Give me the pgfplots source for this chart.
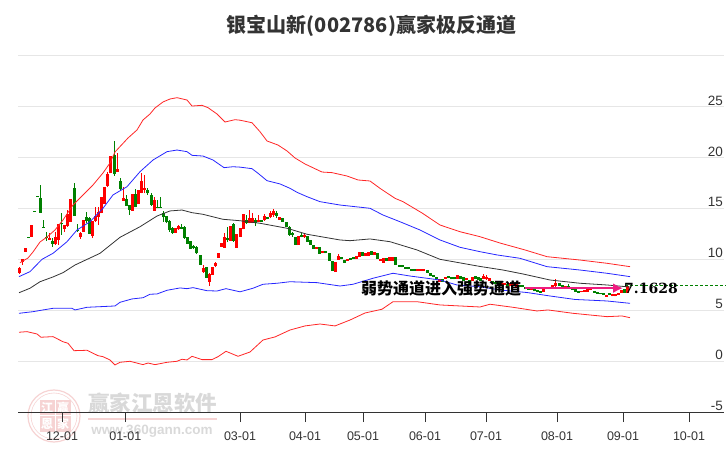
\documentclass[border=0pt]{standalone}
\usepackage{pgfplots}
\usepackage{pgfplotstable}
\usepackage{fontspec}
\usetikzlibrary{arrows.meta}
\pgfplotsset{compat=1.18}
\setmainfont{Liberation Sans}
\newfontfamily\cjk{Noto Sans CJK SC}
\newfontfamily\numf{DejaVu Serif}
\definecolor{gridc}{HTML}{E6E6E6}
\definecolor{axc}{HTML}{333333}
\definecolor{pinkw}{HTML}{F6D3D3}
\definecolor{grayw}{HTML}{D9D9D9}
\definecolor{arrowc}{HTML}{EE1C80}
\definecolor{cred}{HTML}{FF0000}
\definecolor{cgreen}{HTML}{008000}
\pgfplotstableread{
x blo bhi wlo whi
19.3 8.69 9.11 8.56 9.21
22.3 9.70 10.00 9.44 10.00
25.3 10.75 11.07 10.75 11.07
31.3 12.22 13.33 12.22 13.33
49.3 11.89 12.09 11.89 12.55
55.3 11.47 12.22 11.40 12.71
58.3 11.89 13.43 11.40 13.43
64.3 12.97 13.37 12.65 13.37
67.3 13.27 14.44 13.20 14.84
70.3 13.69 15.92 13.69 15.92
80.3 12.15 12.55 11.99 12.71
83.3 12.71 13.86 12.71 13.86
92.3 12.28 13.79 12.06 13.79
95.3 13.79 14.25 13.69 15.10
98.3 14.18 14.67 13.37 15.10
101.3 14.51 16.08 14.51 16.08
104.3 15.43 17.06 15.43 17.06
107.3 17.19 18.37 17.13 18.60
110.3 18.44 20.14 18.44 20.14
117.3 18.60 18.83 18.60 20.46
123.3 15.75 15.98 15.75 17.13
132.3 14.77 16.37 14.77 16.37
138.3 15.43 16.80 15.43 16.80
141.3 16.54 17.68 16.47 18.44
144.3 16.80 16.96 16.47 18.27
154.3 14.77 15.82 14.74 16.15
175.3 12.61 13.07 12.61 13.07
178.3 12.94 13.27 12.87 13.37
203.5 8.78 9.11 8.69 9.44
209.5 7.80 8.56 7.41 8.62
212.5 8.46 9.21 8.46 9.21
215.5 9.34 9.67 9.21 9.77
218.5 10.16 10.58 10.16 10.58
221.5 11.24 11.57 11.24 11.57
224.5 11.14 12.15 11.14 12.55
230.3 11.82 13.26 11.82 13.26
236.3 11.14 12.48 11.14 12.48
240.3 12.22 13.03 12.22 13.03
243.3 12.94 14.44 12.94 14.44
249.3 13.59 14.02 13.52 14.83
252.3 13.59 14.02 13.52 14.51
258 13.63 13.86 13.63 14.35
264 13.86 14.25 13.76 14.44
270 14.12 14.58 14.02 14.77
273 14.35 14.77 14.18 14.93
279 13.86 14.12 13.86 14.12
298.3 11.40 12.32 11.40 12.32
304 12.22 12.38 12.12 12.55
316.3 10.98 11.24 10.98 11.24
322.3 10.58 10.81 10.58 10.81
335.3 8.78 9.77 8.78 9.77
338.3 9.93 10.35 9.93 10.52
347.3 9.86 10.03 9.86 10.03
356.3 10.03 10.32 10.03 10.32
359.3 10.26 10.68 10.26 10.68
365.3 10.35 10.65 10.35 10.65
368.3 10.35 10.68 10.35 10.68
374.3 10.42 10.68 10.42 10.68
380.3 9.86 10.03 9.86 10.03
383.3 9.67 10.09 9.67 10.09
389.3 9.86 10.19 9.86 10.19
392.3 9.86 10.26 9.86 10.26
417.7 8.85 9.05 8.85 9.05
420.7 8.85 9.05 8.85 9.05
423.7 8.85 9.05 8.85 9.05
439 7.80 8.03 7.80 8.03
445 8.08 8.28 8.08 8.28
457.3 8.10 8.42 8.10 8.42
466.3 7.97 8.17 7.97 8.17
472.3 7.90 8.23 7.90 8.23
483 8.05 8.35 8.02 8.51
486 8.03 8.22 8.00 8.45
489 7.86 8.12 7.86 8.12
501 7.40 7.63 7.40 7.63
504 7.47 7.67 7.47 7.67
510 7.40 7.63 7.40 7.63
513 7.45 7.65 7.45 7.65
516 7.30 7.53 7.30 7.53
531 7.00 7.18 7.00 7.18
543 6.82 7.05 6.82 7.05
546 7.05 7.25 7.05 7.25
549 7.07 7.27 7.07 7.27
552 7.25 7.47 7.25 7.47
555.5 7.38 7.70 7.31 8.06
565 7.22 7.40 7.22 7.40
581 6.75 6.92 6.75 6.92
584 6.80 6.98 6.80 6.98
587 6.82 7.05 6.82 7.05
590 6.97 7.15 6.97 7.15
606 6.33 6.53 6.33 6.53
612 6.38 6.56 6.38 6.56
615 6.36 6.56 6.36 6.56
618 6.49 6.72 6.49 6.72
621 6.66 6.98 6.66 6.98
627.5 6.66 7.38 6.66 7.38
}\redt
\pgfplotstableread{
x blo bhi wlo whi
28.3 12.15 12.22 12.15 12.22
34.3 14.71 14.78 14.71 14.78
37.3 16.18 16.25 16.18 16.25
40.3 14.58 15.98 14.58 17.29
43.3 13.14 13.21 13.10 13.86
46.3 12.06 12.22 11.79 12.65
52.3 11.47 11.79 11.24 12.06
61.3 13.43 13.53 12.38 14.51
74.3 14.28 16.96 14.28 17.52
77.3 12.81 12.88 12.71 13.43
86.3 13.79 14.12 13.53 14.61
89.3 12.48 14.02 12.48 14.18
114.3 18.34 20.24 18.21 21.61
120.3 16.87 17.68 16.80 17.95
126.3 15.26 15.88 15.23 16.31
129.3 14.84 15.33 14.35 15.33
135.3 15.10 16.37 15.10 16.87
147.3 16.47 16.80 16.31 16.96
151 15.33 16.31 15.23 16.47
157.3 15.10 15.17 15.00 15.82
160.3 15.10 15.17 15.07 16.15
163.3 14.12 14.58 13.69 14.74
166.3 13.63 14.25 13.53 14.25
169.3 12.87 13.76 12.71 13.86
172.3 12.61 13.07 12.48 13.20
181.3 12.97 13.20 12.94 13.46
184.3 12.12 13.14 12.02 13.27
187.3 11.50 12.15 11.50 12.15
190.3 11.04 11.79 11.04 11.79
193.3 11.07 11.30 10.98 11.40
196.5 10.58 11.17 10.49 11.30
200.3 9.47 10.42 9.47 10.42
206.5 8.20 9.21 8.20 9.21
227.3 11.89 12.12 11.66 13.20
233.3 11.82 13.46 11.73 13.52
246.3 13.52 13.85 13.46 14.34
255.3 13.52 13.85 13.26 14.02
261 13.69 13.86 13.69 13.86
267 13.92 14.12 13.92 14.12
276 14.28 14.51 14.02 14.77
282.7 13.69 14.02 13.69 14.02
286 13.14 13.69 13.14 13.69
289 12.38 13.14 12.32 13.27
292 12.38 12.61 12.22 12.71
295 11.40 12.22 11.40 12.22
301.3 12.22 12.38 12.15 12.55
307 11.73 12.32 11.73 12.32
310 11.40 11.89 11.40 11.89
313 10.98 11.40 10.98 11.40
319.3 10.52 11.17 10.52 11.17
325.3 10.58 10.81 10.58 10.81
329.3 9.83 10.58 9.83 10.58
332.3 8.85 9.86 8.85 9.86
341.3 9.99 10.26 9.99 10.26
344.3 9.67 9.93 9.67 9.93
350.3 9.93 10.09 9.93 10.09
353.3 10.03 10.20 10.03 10.20
362.3 10.35 10.68 10.35 10.68
371.3 10.42 10.81 10.42 10.81
377.3 10.03 10.58 10.03 10.58
386.3 9.86 10.09 9.86 10.09
395.7 9.44 10.26 9.44 10.26
399.3 9.27 9.47 9.27 9.47
402.7 9.21 9.44 9.21 9.44
405.7 9.05 9.27 9.05 9.27
408.7 9.01 9.21 9.01 9.21
411.7 8.85 9.05 8.85 9.05
414.7 8.87 9.07 8.87 9.07
427.3 8.69 8.95 8.69 8.95
430 8.36 8.62 8.36 8.62
433 8.23 8.46 8.23 8.46
436 8.03 8.29 8.03 8.29
442 7.80 8.03 7.80 8.03
448 8.13 8.36 8.13 8.36
451 8.03 8.29 8.03 8.29
454 8.03 8.23 8.03 8.23
460.3 8.03 8.36 8.03 8.36
463.3 7.90 8.29 7.90 8.29
469.3 7.47 7.97 7.47 7.97
475.3 8.03 8.36 8.03 8.36
478.3 7.97 8.29 7.97 8.29
480.5 7.89 8.19 7.89 8.19
492 7.63 7.89 7.63 7.89
495 7.53 7.79 7.53 7.79
498 7.47 7.73 7.47 7.73
507 7.36 7.56 7.36 7.56
519 7.30 7.50 7.30 7.50
522 7.25 7.47 7.25 7.47
525 7.05 7.25 7.05 7.25
528 7.00 7.18 7.00 7.18
534 6.85 7.05 6.85 7.05
537 6.75 6.98 6.75 6.98
540 6.72 6.92 6.72 6.92
559 7.38 7.64 7.38 7.64
562 7.31 7.47 7.31 7.47
568 7.31 7.38 7.25 7.57
572 6.98 7.15 6.98 7.15
575 6.82 7.05 6.82 7.05
578 6.72 6.92 6.72 6.92
594 6.72 6.92 6.72 6.92
597 6.59 6.75 6.59 6.75
600 6.56 6.72 6.56 6.72
603 6.49 6.66 6.49 6.66
609 6.49 6.66 6.49 6.66
624 6.72 7.05 6.72 7.05
}\greent
\pgfplotsset{
  wick/.style={draw=none,mark=none,forget plot,error bars/.cd,y dir=plus,y explicit,error mark=none,error bar style={#1,line width=0.8pt}},
  body/.style={draw=none,mark=none,forget plot,error bars/.cd,y dir=plus,y explicit,error mark=none,error bar style={#1,line width=3pt}},
}
\begin{document}
\begin{tikzpicture}
\path[use as bounding box] (-18pt,-38pt) rectangle (708pt,412pt);
\begin{scope}[x=1pt,y=-1pt,shift={(-18pt,412pt)}]
  \node[font=\cjk\bfseries\fontsize{20}{20}\selectfont,text=axc,inner sep=0pt] at (371.5,26) {银宝山新(002786)赢家极反通道};
  % watermark
  \draw[pinkw,line width=1.2pt] (54,416) circle (26);
  \draw[pinkw,line width=0.6pt] (54,416) circle (23);
  \foreach \px/\py/\ch in {47/408/江,63/408/赢,47/424/恩,63/424/家}{
    \node[fill=pinkw,text=white,minimum size=15pt,inner sep=0pt,font=\cjk\bfseries\fontsize{12}{12}\selectfont] at (\px,\py) {\ch};
  }
  \node[text=grayw,inner sep=0pt,font=\cjk\bfseries\fontsize{21.5}{22}\selectfont] at (152.5,403) {赢家江恩软件};
  \fill[pinkw] (88,418) rectangle (217,420.5);
  \node[text=grayw,inner sep=0pt,font=\bfseries\fontsize{13.5}{14}\selectfont] at (152,431.5) {www.360gann.com};
\end{scope}
\begin{axis}[
  anchor=south west, at={(0pt,0pt)},
  scale only axis, width=706pt, height=412pt,
  xmin=18, xmax=724, ymin=-5, ymax=35.45,
  clip=false,
  axis x line*=bottom,
  axis y line*=right,
  y axis line style={draw=none},
  x axis line style={draw=axc,line width=1pt,-},
  xtick={62,125.3,240,305,363,425,486,557,623,689},
  xticklabels={12-01,01-01,03-01,04-01,05-01,06-01,07-01,08-01,09-01,10-01},
  ytick={-5,0,5,10,15,20,25,30},
  yticklabels={-5,0,5,10,15,20,25,},
  ymajorgrids,
  grid style={gridc,line width=1pt},
  x tick style={draw=axc,line width=0.8pt},
  y tick style={draw=none},
  major tick length=10pt,
  tick align=outside,
  x tick label style={font=\fontsize{12.5}{13}\selectfont,text=axc,inner sep=0pt,anchor=center,yshift=-14pt},
  y tick label style={font=\fontsize{13.5}{14}\selectfont,text=axc,inner sep=0pt,anchor=south east,xshift=-11pt,yshift=1pt},
]
\addplot[wick=cred] table[x=x,y=wlo,y error plus expr=\thisrow{whi}-\thisrow{wlo}]{\redt};
\addplot[body=cred] table[x=x,y=blo,y error plus expr=\thisrow{bhi}-\thisrow{blo}]{\redt};
\addplot[wick=cgreen] table[x=x,y=wlo,y error plus expr=\thisrow{whi}-\thisrow{wlo}]{\greent};
\addplot[body=cgreen] table[x=x,y=blo,y error plus expr=\thisrow{bhi}-\thisrow{blo}]{\greent};
% upper red
\addplot[cred!85!white,line width=0.8pt,mark=none] coordinates {
(20,9.66)(28,10.12)(33,10.71)(40,11.69)(47,12.18)(55,12.87)(63,13.85)(73,15.32)(83,16.31)(93,17.29)(103,18.47)(110,19.45)(115,20.53)(128,21.90)(137,22.69)(143,23.67)(150,24.26)(155,24.85)(163,25.44)(170,25.73)(177,25.86)(187,25.63)(192,25.04)(202,25.11)(208,24.88)(217,24.26)(225,23.47)(235,23.70)(240,23.65)(252,23.40)(260,22.52)(267,21.61)(278,21.21)(287,20.63)(295,19.94)(305,19.35)(322,18.56)(332,18.50)(347,18.17)(358,17.78)(370,17.68)(380,16.96)(395,15.98)(403,15.65)(422,14.54)(440,13.36)(460,12.70)(480,12.21)(500,11.59)(525,10.91)(547,10.25)(580,9.92)(607,9.60)(630,9.27)};
% upper blue
\addplot[blue!85!white,line width=0.8pt,mark=none] coordinates {
(19,8.29)(30,8.78)(42,9.99)(53,10.58)(67,11.72)(77,12.87)(90,13.68)(103,15.00)(113,16.31)(127,17.12)(140,18.59)(153,19.74)(167,20.56)(177,20.72)(187,20.56)(192,20.20)(203,20.13)(213,19.74)(224,18.99)(233,19.08)(240,19.04)(252,18.89)(258,18.44)(267,17.71)(280,17.39)(290,16.96)(297,16.57)(307,16.14)(320,15.65)(340,15.32)(370,15.00)(383,14.34)(400,13.68)(420,12.87)(440,11.89)(460,11.17)(480,10.74)(497,10.42)(520,10.09)(547,9.27)(580,8.94)(607,8.62)(630,8.29)};
% middle
\addplot[black!80,line width=0.8pt,mark=none] coordinates {
(19,6.71)(30,7.15)(40,7.79)(53,8.26)(63,8.68)(75,9.43)(100,10.58)(120,12.15)(140,13.19)(157,14.24)(170,14.74)(182,14.83)(192,14.57)(203,14.41)(223,13.92)(240,13.78)(260,13.53)(287,13.04)(307,12.45)(340,11.89)(350,11.82)(370,11.99)(390,11.72)(417,10.91)(440,9.99)(480,9.29)(503,8.94)(523,8.55)(550,7.96)(580,7.64)(607,7.47)(630,7.27)};
% lower blue
\addplot[blue!85!white,line width=0.8pt,mark=none] coordinates {
(19,4.69)(33,4.85)(43,5.02)(53,5.18)(72,5.18)(75,5.02)(87,5.28)(100,5.34)(115,5.41)(120,5.77)(132,6.10)(143,6.22)(150,6.56)(157,6.59)(167,6.95)(180,7.18)(187,7.11)(193,7.21)(207,6.91)(217,6.88)(226,7.11)(240,6.80)(253,7.15)(263,7.54)(277,7.64)(290,7.79)(317,7.70)(340,7.37)(353,7.54)(373,8.13)(393,8.62)(410,8.35)(440,7.96)(457,7.47)(480,7.30)(500,6.98)(527,6.73)(550,6.39)(575,6.05)(607,5.90)(630,5.67)};
% lower red
\addplot[cred!85!white,line width=0.8pt,mark=none] coordinates {
(19,2.83)(27,2.89)(37,2.66)(41,2.34)(53,2.40)(63,1.90)(68,1.75)(74,1.02)(87,1.06)(98,0.53)(103,0.43)(110,0.11)(115,-0.38)(120,-0.12)(130,-0.02)(143,-0.35)(148,-0.19)(155,-0.35)(167,-0.12)(177,-0.02)(182,0.18)(187,0.11)(192,0.47)(202,0.14)(212,0.14)(218,0.43)(226,0.96)(238,0.47)(250,0.89)(263,2.07)(275,2.37)(290,3.05)(305,3.45)(320,3.64)(335,3.45)(350,4.03)(365,4.72)(382,5.09)(393,5.83)(417,5.83)(440,5.51)(480,5.31)(490,5.58)(513,5.28)(537,4.92)(548,5.02)(573,4.69)(607,4.36)(622,4.43)(630,4.26)};
% last-price line
\addplot[cgreen,line width=0.6pt,densely dashed,mark=none] coordinates {(625,7.44)(726,7.44)};
% arrow
\addplot[arrowc,line width=2.2pt,mark=none,-{Latex[length=10pt,width=10pt]}] coordinates {(525,7.16)(623,7.16)};
\end{axis}
\begin{scope}[x=1pt,y=-1pt,shift={(-18pt,412pt)}]
  \node[font=\cjk\bfseries\fontsize{16}{16}\selectfont,text=black,inner sep=0pt] at (441,288) {弱势通道进入强势通道};
  \node[font=\numf\bfseries\fontsize{14}{14}\selectfont,text=black,inner sep=0pt] at (651,288) {7.1628};
\end{scope}
\end{tikzpicture}
\end{document}
